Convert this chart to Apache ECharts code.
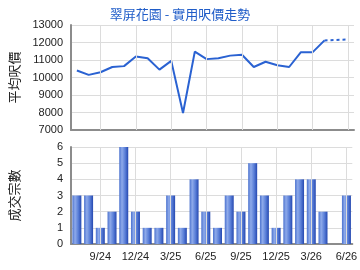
<!DOCTYPE html>
<html><head><meta charset="utf-8">
<script src="https://cdn.jsdelivr.net/npm/echarts@6/dist/echarts.min.js"></script>
<style>html,body{margin:0;padding:0;background:#fff}#c{width:360px;height:270px}</style>
</head><body><div id="c"></div>
<script>
var months = ['7/24','8/24','9/24','10/24','11/24','12/24','1/25','2/25','3/25','4/25','5/25','6/25','7/25','8/25','9/25','10/25','11/25','12/25','1/26','2/26','3/26','4/26','5/26','6/26'];
var avgPrice = [10400,10150,10300,10600,10650,11200,11100,10450,10950,7970,11480,11050,11100,11250,11300,10600,10900,10700,10600,11450,11450,12120,null,12170];
var txCount = [3,3,1,2,6,2,1,1,3,1,4,2,1,3,2,5,3,1,3,4,4,2,0,3];
var tickMonths = ['9/24','12/24','3/25','6/25','9/25','12/25','3/26','6/26'];
var priceTicks = {min:7000,max:13000,interval:1000};
var countTicks = {min:0,max:6,interval:1};
var title = '翠屏花園 - 實用呎價走勢';
var priceName = '平均呎價';
var countName = '成交宗數';

// dotted bridge over the missing month
var bridge = avgPrice.map(function(v,i){
  if (v === null) return null;
  var prevNull = i+1 < avgPrice.length && avgPrice[i+1] === null;
  var nextNull = i-1 >= 0 && avgPrice[i-1] === null;
  return (prevNull || nextNull) ? v : null;
});

var labelIdx = function(i, v){ return tickMonths.indexOf(months[i]) >= 0; };
var font = 'Arial, "Liberation Sans", sans-serif';
var chart = echarts.init(document.getElementById('c'));
function xAxisCfg(gi, showLabel){
  return {
    type:'category', gridIndex:gi, data:months, boundaryGap:true,
    axisLine:{show:true,lineStyle:{color:'#8c8c8c',width:2}},
    axisTick:{show:false},
    axisLabel:{show:showLabel, interval:labelIdx, color:'#222', fontSize:11, fontFamily:font, margin:7},
    splitLine:{show:false}
  };
}
function yAxisCfg(gi, t, name){
  return {
    type:'value', gridIndex:gi, min:t.min, max:t.max, interval:t.interval,
    name:name, nameLocation:'middle', nameRotate:90, nameGap:50,
    nameTextStyle:{color:'#222',fontSize:13,fontFamily:'"Noto Sans CJK TC", sans-serif'},
    axisLine:{show:true,lineStyle:{color:'#8c8c8c',width:2}},
    axisTick:{show:false},
    axisLabel:{color:'#222',fontSize:11,fontFamily:font,margin:8,formatter:function(v){return String(v);}},
    splitLine:{show:true,lineStyle:{color:'#dcdcdc',width:1}}
  };
}
function gridLines(xi, yi){
  return {type:'line',xAxisIndex:xi,yAxisIndex:yi,data:[],z:1,silent:true,
    markLine:{silent:true,symbol:['none','none'],label:{show:false},animation:false,
      lineStyle:{color:'#dcdcdc',width:1,type:'solid'},
      data:tickMonths.map(function(m){return {xAxis:m};})}};
}
chart.setOption({
  animation:false,
  title:{text:title,left:'center',top:3,textStyle:{color:'#1f5cc8',fontSize:13,fontWeight:'normal',fontFamily:'"Noto Sans CJK TC", sans-serif'}},
  grid:[
    {left:66,right:6,top:25,height:105},
    {left:66,right:6,top:147,height:97}
  ],
  xAxis:[xAxisCfg(0,false), xAxisCfg(1,true)],
  yAxis:[yAxisCfg(0,priceTicks,priceName), yAxisCfg(1,countTicks,countName)],
  series:[
    gridLines(0,0),
    gridLines(1,1),
    {type:'line',xAxisIndex:0,yAxisIndex:0,data:avgPrice,showSymbol:false,connectNulls:false,z:3,
     lineStyle:{color:'#2a62d2',width:2},itemStyle:{color:'#2a62d2'}},
    {type:'line',xAxisIndex:0,yAxisIndex:0,data:bridge,showSymbol:false,connectNulls:true,z:3,
     lineStyle:{color:'#2a62d2',width:2,type:[3,3]},itemStyle:{color:'#2a62d2'}},
    {type:'bar',xAxisIndex:1,yAxisIndex:1,data:txCount,barWidth:9,z:3,
     itemStyle:{color:new echarts.graphic.LinearGradient(0,0,1,0,[
       {offset:0,color:'#4b72cf'},{offset:0.3,color:'#8eaaea'},{offset:0.65,color:'#5a7fd8'},{offset:1,color:'#2548b0'}])}}
  ]
});
</script></body></html>
